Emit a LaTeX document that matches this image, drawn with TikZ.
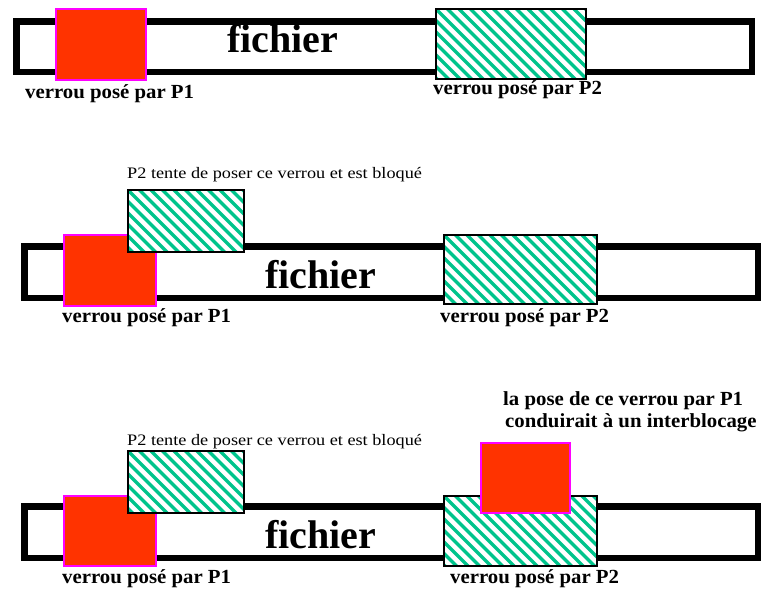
\documentclass[tikz,border=0pt]{standalone}
\usepackage{graphicx}
\usepackage{fontspec}
\setmainfont{Liberation Serif}
\definecolor{lockred}{RGB}{255,51,0}
\definecolor{lockpink}{RGB}{255,0,255}
\definecolor{hatchc}{RGB}{0,196,140}
\tikzset{
  bar/.style={draw=black, line width=6.5pt, fill=white, anchor=north west, inner sep=0pt},
  redlock/.style={draw=lockpink, line width=1.8pt, fill=lockred, anchor=north west, inner sep=0pt},
  hatchlock/.style={draw=black, line width=1.5pt, fill=white, anchor=north west, inner sep=0pt,
    path picture={
      \coordinate (hnw) at (path picture bounding box.north west);
      \foreach \k in {-8,...,15}{
        \draw[hatchc, line width=3.3pt] ([xshift=\k*11.5pt]hnw) -- ++(150,-150);
      }
    }},
  big/.style={anchor=base west, inner sep=0pt, font=\fontsize{40}{40}\selectfont\bfseries},
  lbl/.style={anchor=base west, inner sep=0pt, font=\fontsize{20}{20}\selectfont\bfseries},
  note/.style={anchor=base west, inner sep=0pt, font=\fontsize{16}{16}\selectfont}
}
\newcommand{\lbltext}[1]{\scalebox{1.04}[1]{#1}}
\newcommand{\notetext}[1]{\scalebox{1.14}[1]{#1}}
\begin{document}
\begin{tikzpicture}[x=1pt, y=1pt]
\fill[white] (0,0) rectangle (761,-589);
\useasboundingbox (0,0) rectangle (761,-589);

% ---------- Row 1 ----------
\node[bar, minimum width=735.5pt, minimum height=50.5pt] (bar1) at (13.25,-18.25) {};
\node[big] (f1) at (227,-52) {fichier};
\node[redlock, minimum width=90pt, minimum height=71pt] (r1) at (55,-8) {};
\node[hatchlock, minimum width=150pt, minimum height=70pt] (h1) at (435,-8) {};
\node[lbl] (l1a) at (25,-98) {\lbltext{verrou posé par P1}};
\node[lbl] (l1b) at (433,-94) {\lbltext{verrou posé par P2}};

% ---------- Row 2 ----------
\node[bar, minimum width=733.5pt, minimum height=51.5pt] (bar2) at (21.25,-243.25) {};
\node[big] (f2) at (265,-288) {fichier};
\node[hatchlock, minimum width=153pt, minimum height=69pt] (h2) at (443,-234) {};
\node[redlock, minimum width=92pt, minimum height=71pt] (r2) at (63,-234) {};
\node[hatchlock, minimum width=116pt, minimum height=62pt] (s2) at (127,-189) {};
\node[note] (n2) at (127,-178) {\notetext{P2 tente de poser ce verrou et est bloqué}};
\node[lbl] (l2a) at (62,-322) {\lbltext{verrou posé par P1}};
\node[lbl] (l2b) at (440,-322) {\lbltext{verrou posé par P2}};

% ---------- Row 3 ----------
\node[bar, minimum width=733.5pt, minimum height=51.5pt] (bar3) at (21.25,-503.25) {};
\node[big] (f3) at (265,-548) {fichier};
\node[redlock, minimum width=92pt, minimum height=70pt] (r3) at (63,-495) {};
\node[hatchlock, minimum width=116pt, minimum height=62pt] (s3) at (127,-450) {};
\node[hatchlock, minimum width=153pt, minimum height=70pt] (h3) at (443,-495) {};
\node[redlock, minimum width=89pt, minimum height=70pt] (t3) at (480,-442) {};
\node[note] (n3) at (127,-445) {\notetext{P2 tente de poser ce verrou et est bloqué}};
\node[lbl] (m3a) at (503,-405) {\lbltext{la pose de ce verrou par P1}};
\node[lbl] (m3b) at (505,-427) {\lbltext{conduirait à un interblocage}};
\node[lbl] (l3a) at (62,-583) {\lbltext{verrou posé par P1}};
\node[lbl] (l3b) at (450,-583) {\lbltext{verrou posé par P2}};
\end{tikzpicture}
\end{document}
